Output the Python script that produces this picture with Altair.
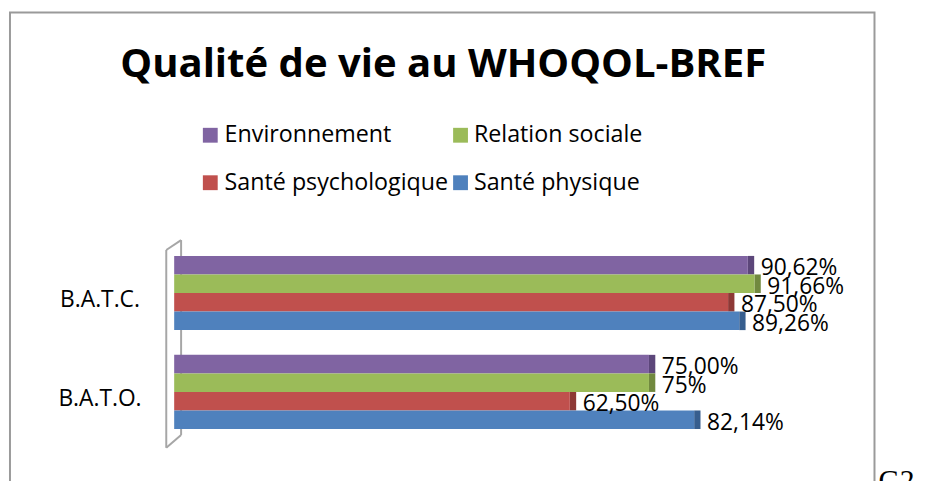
import altair as alt
import pandas as pd

# ---- data ----
categories = ["B.A.T.C.", "B.A.T.O."]
series = ["Environnement", "Relation sociale", "Santé psychologique", "Santé physique"]
colors = ["#8064A2", "#9BBB59", "#C0504D", "#4F81BD"]
side_colors = ["#5C467A", "#71893F", "#8E3936", "#375E8E"]
batc_values = [90.62, 91.66, 87.50, 89.26]
batc_labels = ["90,62%", "91,66%", "87,50%", "89,26%"]
bato_values = [75.00, 75.00, 62.50, 82.14]
bato_labels = ["75,00%", "75%", "62,50%", "82,14%"]
title_text = "Qualité de vie au WHOQOL-BREF"
side_note = "G2"
legend_col = [0, 1, 0, 1]
legend_row = [0, 0, 1, 1]

rows = []
for cat, vals, labs in [(categories[0], batc_values, batc_labels),
                        (categories[1], bato_values, bato_labels)]:
    for s, v, l in zip(series, vals, labs):
        rows.append({"cat": cat, "serie": s, "value": v, "label": l})
df = pd.DataFrame(rows)
df_cat = pd.DataFrame({"cat": categories})
df_leg = pd.DataFrame({"serie": series, "col": legend_col, "row": legend_row})
one = pd.DataFrame({"a": [0]})

FONT = "Open Sans"

y_enc = alt.Y("cat:N", scale=alt.Scale(domain=categories, range=[227, 440],
                                        paddingInner=0.25, paddingOuter=0.19), axis=None)
yoff_enc = alt.YOffset("serie:N", scale=alt.Scale(domain=series, paddingInner=0, paddingOuter=0))
x_scale = alt.Scale(domain=[0, 100], range=[166, 806])
color_scale = alt.Scale(domain=series, range=colors)

# decorative 3D axis wall (bracket)
gray = "#a6a6a6"
wall = [
    alt.Chart(one).mark_rule(color=gray, strokeWidth=2).encode(
        x=alt.value(158), y=alt.value(240), y2=alt.value(440)),
    alt.Chart(one).mark_rule(color=gray, strokeWidth=2).encode(
        x=alt.value(173), y=alt.value(230), y2=alt.value(427)),
    alt.Chart(one).mark_rule(color=gray, strokeWidth=2).encode(
        x=alt.value(158), x2=alt.value(173), y=alt.value(240), y2=alt.value(230)),
    alt.Chart(one).mark_rule(color=gray, strokeWidth=2).encode(
        x=alt.value(158), x2=alt.value(173), y=alt.value(440), y2=alt.value(427)),
]

sides = alt.Chart(df).transform_calculate(
    end="datum.value + 1", side_key="datum.serie"
).mark_bar().encode(
    x=alt.X("value:Q", scale=x_scale, axis=None),
    x2="end:Q",
    y=y_enc,
    yOffset=yoff_enc,
    fill=alt.Fill("side_key:N", scale=alt.Scale(domain=series, range=side_colors), legend=None),
)

bars = alt.Chart(df).mark_bar().encode(
    x=alt.X("value:Q", scale=x_scale, axis=None),
    y=y_enc,
    yOffset=yoff_enc,
    color=alt.Color("serie:N", scale=color_scale, legend=None),
)

labels = alt.Chart(df).mark_text(align="left", baseline="middle", dx=13, dy=3,
                                 fontSize=23, font=FONT, color="black").encode(
    x=alt.X("value:Q", scale=x_scale, axis=None),
    y=y_enc,
    yOffset=yoff_enc,
    text="label:N",
)

cat_labels = alt.Chart(df_cat).mark_text(align="center", baseline="middle", dy=7,
                                         fontSize=23, font=FONT, color="black").encode(
    x=alt.value(91),
    y=y_enc,
    text="cat:N",
)

# legend drawn as marks (2 x 2 grid)
leg_base = alt.Chart(df_leg).transform_calculate(
    sx="202.5 + datum.col * 253",
    tx="217 + datum.col * 252",
    ly="124 + datum.row * 48",
)
leg_sq = leg_base.mark_square(size=225, opacity=1).encode(
    x=alt.X("sx:Q", scale=None),
    y=alt.Y("ly:Q", scale=None),
    color=alt.Color("serie:N", scale=color_scale, legend=None),
)
leg_txt = leg_base.mark_text(align="left", baseline="middle", fontSize=23.5, font=FONT,
                             color="black").encode(
    x=alt.X("tx:Q", scale=None),
    y=alt.Y("ly:Q", scale=None),
    text="serie:N",
)

title = alt.Chart(one).mark_text(align="center", baseline="alphabetic", fontSize=40.5,
                                 fontWeight="bold", font=FONT, color="black").encode(
    x=alt.value(438), y=alt.value(65), text=alt.value(title_text))

note = alt.Chart(one).mark_text(align="left", baseline="alphabetic", fontSize=30,
                                font="Liberation Serif", color="black").encode(
    x=alt.value(878), y=alt.value(483), text=alt.value(side_note))

chart = alt.layer(*wall, sides, bars, labels, cat_labels, leg_sq, leg_txt, title, note).properties(
    width=874, height=480,
    autosize=alt.AutoSizeParams(type="none"),
    padding={"left": 2, "top": 2, "right": 45, "bottom": 0},
).configure_view(stroke="#9a9a9a", strokeWidth=2)

chart.save("out.html", embed_options={"renderer": "svg", "actions": False})
